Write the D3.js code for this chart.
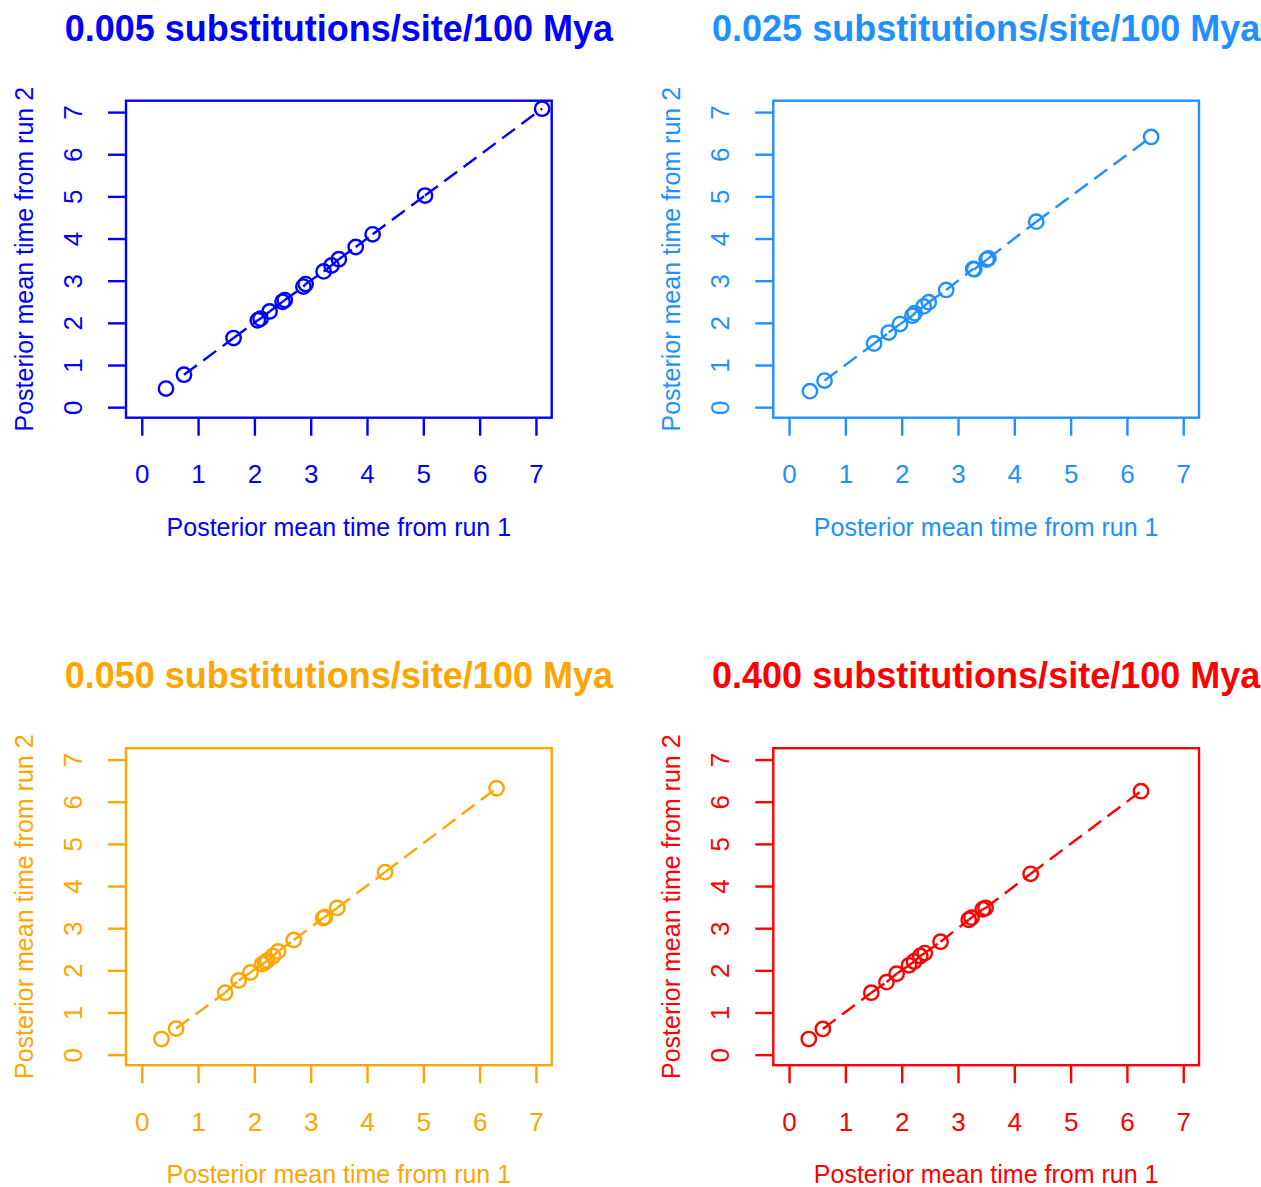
<!DOCTYPE html>
<html>
<head>
<meta charset="utf-8">
<script src="https://cdn.jsdelivr.net/npm/d3@7"></script>
<style>
  html, body { margin: 0; padding: 0; background: #ffffff; }
  svg { display: block; font-family: "Liberation Sans", Arial, Helvetica, sans-serif; }
</style>
</head>
<body>
<svg id="chart" width="1261" height="1187"></svg>
<script>
// Posterior mean node ages (100 Myr units) from two independent MCMC runs,
// one panel per substitution rate.
const panelTitles = [
  "0.005 substitutions/site/100 Mya",
  "0.025 substitutions/site/100 Mya",
  "0.050 substitutions/site/100 Mya",
  "0.400 substitutions/site/100 Mya"
];
const panelColors = ["#0000FF", "#1E90FF", "#FFA500", "#FF0000"];

const run1_r005 = [0.43, 0.75, 1.63, 2.06, 2.11, 2.27, 2.50, 2.54, 2.87, 2.91, 3.23, 3.37, 3.50, 3.80, 4.10, 5.03, 7.11];
const run2_r005 = [0.44, 0.77, 1.64, 2.06, 2.10, 2.27, 2.50, 2.54, 2.86, 2.92, 3.22, 3.36, 3.51, 3.80, 4.10, 5.02, 7.08];

const run1_r025 = [0.37, 0.63, 1.51, 1.77, 1.97, 2.19, 2.23, 2.39, 2.48, 2.79, 3.27, 3.29, 3.51, 3.54, 4.39, 6.43];
const run2_r025 = [0.38, 0.63, 1.51, 1.77, 1.97, 2.17, 2.23, 2.39, 2.49, 2.78, 3.28, 3.27, 3.50, 3.53, 4.40, 6.41];

const run1_r050 = [0.35, 0.61, 1.48, 1.72, 1.93, 2.14, 2.19, 2.23, 2.33, 2.42, 2.70, 3.22, 3.25, 3.47, 4.32, 6.30];
const run2_r050 = [0.37, 0.62, 1.47, 1.76, 1.95, 2.15, 2.19, 2.23, 2.34, 2.45, 2.72, 3.24, 3.26, 3.48, 4.33, 6.32];

const run1_r400 = [0.35, 0.60, 1.46, 1.73, 1.91, 2.13, 2.22, 2.33, 2.41, 2.69, 3.19, 3.24, 3.44, 3.49, 4.29, 6.25];
const run2_r400 = [0.37, 0.61, 1.47, 1.72, 1.92, 2.12, 2.21, 2.34, 2.41, 2.68, 3.20, 3.25, 3.45, 3.48, 4.29, 6.25];

const axisTicks = [0, 1, 2, 3, 4, 5, 6, 7];
const xAxisTitle = "Posterior mean time from run 1";
const yAxisTitle = "Posterior mean time from run 2";

const runs = [
  [run1_r005, run2_r005],
  [run1_r025, run2_r025],
  [run1_r050, run2_r050],
  [run1_r400, run2_r400]
];

// ---- layout ----
const boxW = 425.7, boxH = 317;
const originX = 126, originY = 100.7;
const stepX = 647.3, stepY = 647.5;
const fontTick = 26, fontLab = 25, fontTitle = 36;
const lw = 2.4;

const svg = d3.select("#chart");
svg.append("rect").attr("width", 1261).attr("height", 1187).attr("fill", "#ffffff");

const x = d3.scaleLinear().domain([-0.28, 7.28]).range([0, boxW]);
const y = d3.scaleLinear().domain([-0.25, 7.27]).range([boxH, 0]);

runs.forEach(([r1, r2], i) => {
  const col = i % 2, row = Math.floor(i / 2);
  const color = panelColors[i];
  const g = svg.append("g")
    .attr("transform", `translate(${originX + col * stepX},${originY + row * stepY})`);

  // title
  g.append("text")
    .attr("x", boxW / 2).attr("y", -60)
    .attr("text-anchor", "middle")
    .attr("font-size", fontTitle).attr("font-weight", "bold")
    .attr("fill", color)
    .text(panelTitles[i]);

  // x axis (ticks outward below the box)
  const gx = g.append("g")
    .attr("transform", `translate(0,${boxH})`)
    .call(d3.axisBottom(x).tickValues(axisTicks).tickSize(18).tickPadding(0).tickFormat(d3.format("d")));
  gx.select(".domain").remove();
  gx.selectAll(".tick line").attr("stroke", color).attr("stroke-width", lw);
  gx.selectAll(".tick text")
    .attr("fill", color).attr("font-size", fontTick)
    .attr("font-family", "Liberation Sans, Arial, sans-serif")
    .attr("y", 65.5).attr("dy", 0);

  // y axis, labels parallel to the axis
  const gy = g.append("g")
    .call(d3.axisLeft(y).tickValues(axisTicks).tickSize(18).tickPadding(0).tickFormat(d3.format("d")));
  gy.select(".domain").remove();
  gy.selectAll(".tick line").attr("stroke", color).attr("stroke-width", lw);
  gy.selectAll(".tick text")
    .attr("fill", color).attr("font-size", fontTick)
    .attr("font-family", "Liberation Sans, Arial, sans-serif")
    .attr("text-anchor", "middle")
    .attr("transform", "rotate(-90)")
    .attr("x", 0).attr("y", -44.5).attr("dy", 0);

  // axis titles
  g.append("text")
    .attr("x", boxW / 2).attr("y", boxH + 118)
    .attr("text-anchor", "middle")
    .attr("font-size", fontLab).attr("fill", color)
    .text(xAxisTitle);
  g.append("text")
    .attr("transform", `translate(-93,${boxH / 2}) rotate(-90)`)
    .attr("text-anchor", "middle")
    .attr("font-size", fontLab).attr("fill", color)
    .text(yAxisTitle);

  // points sorted by run-1 age; connecting dashed segments start at the second node
  const pts = r1.map((v, k) => ({ a: v, b: r2[k] })).sort((p, q) => p.a - q.a);
  const segs = d3.pairs(pts.slice(1));
  g.append("g").selectAll("line").data(segs).join("line")
    .attr("x1", d => x(d[0].a)).attr("y1", d => y(d[0].b))
    .attr("x2", d => x(d[1].a)).attr("y2", d => y(d[1].b))
    .attr("stroke", color).attr("stroke-width", lw)
    .attr("stroke-dasharray", "16,8");

  g.append("g").selectAll("circle").data(pts).join("circle")
    .attr("cx", d => x(d.a)).attr("cy", d => y(d.b))
    .attr("r", 7.2)
    .attr("fill", "none").attr("stroke", color).attr("stroke-width", lw);

  // plot box
  g.append("rect")
    .attr("width", boxW).attr("height", boxH)
    .attr("fill", "none").attr("stroke", color).attr("stroke-width", lw);
});
</script>
</body>
</html>
